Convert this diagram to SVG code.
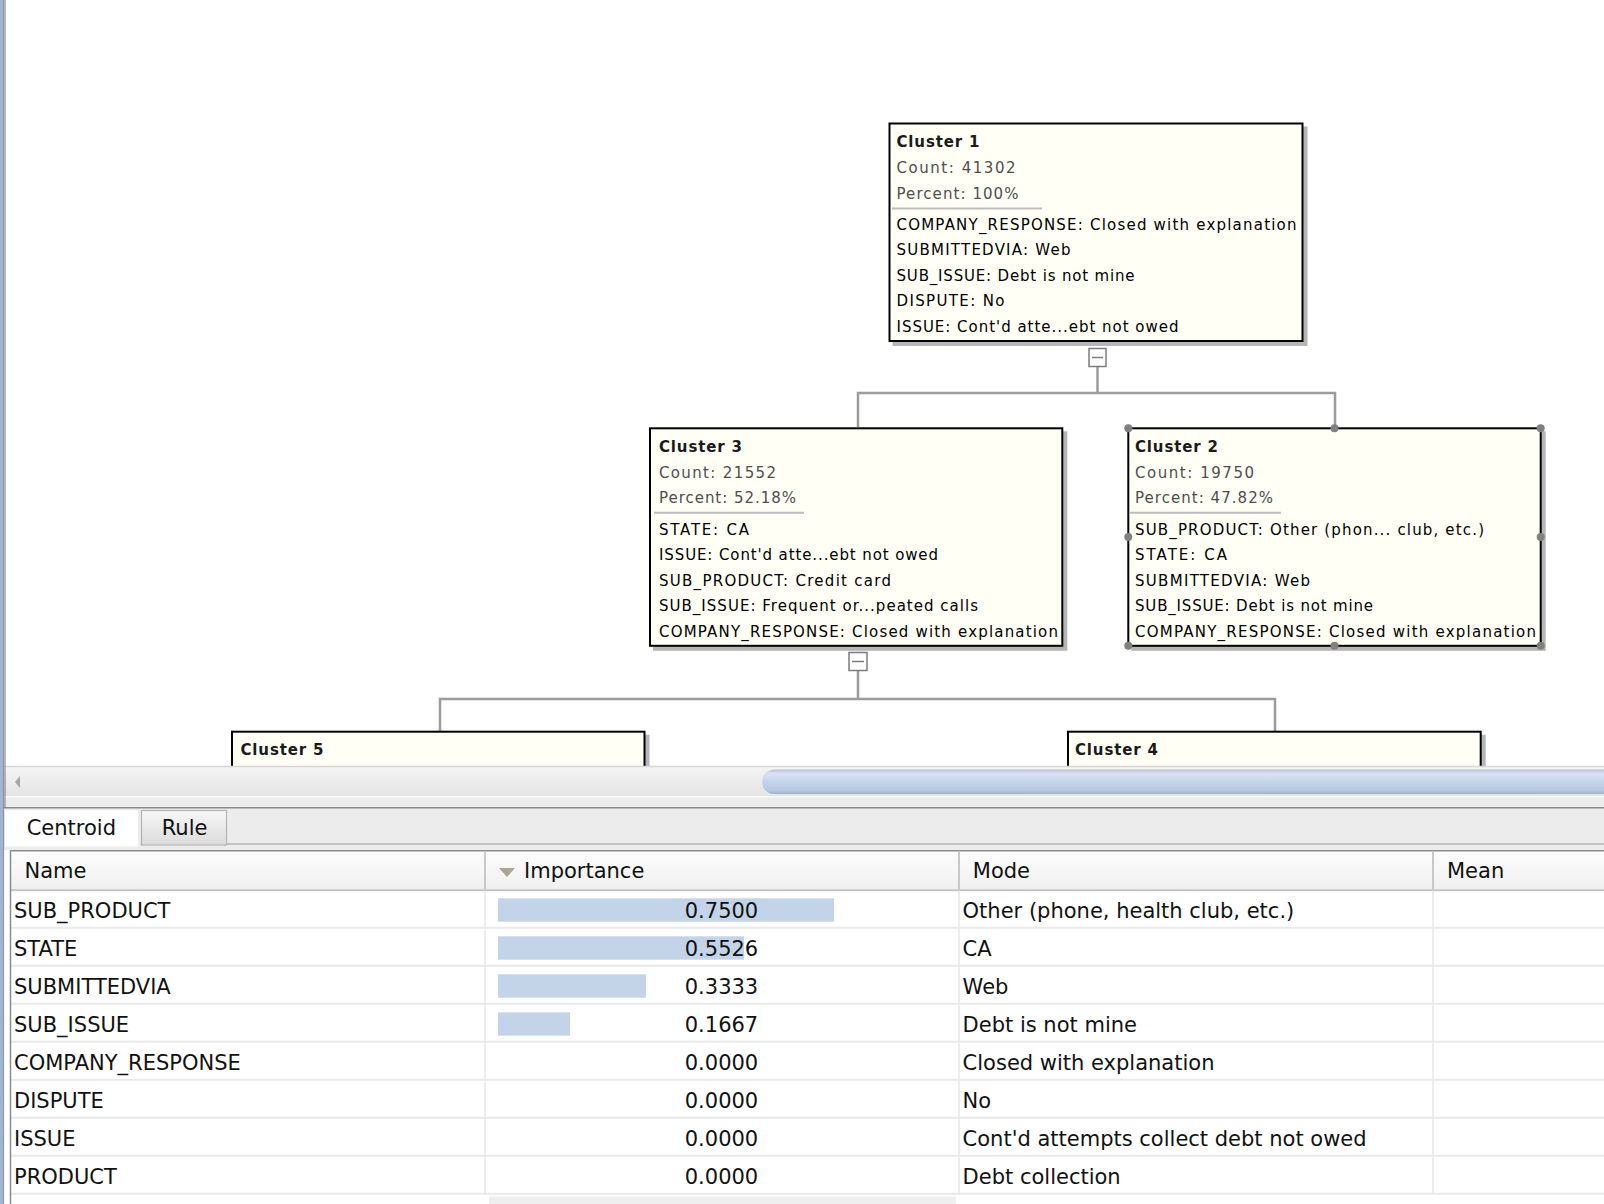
<svg xmlns="http://www.w3.org/2000/svg" width="1604" height="1204" viewBox="0 0 1604 1204">
<defs>
<style>
.box{fill:#fffff5;stroke:#000;stroke-width:2}
.shadow{fill:#b6b6b6}
.ttl{font-family:"DejaVu Sans",sans-serif;font-size:15px;font-weight:bold;fill:#1a1a1a}
.sub{font-family:"DejaVu Sans",sans-serif;font-size:15px;fill:#4e4e4e}
.att{font-family:"DejaVu Sans",sans-serif;font-size:15px;fill:#000}
.sep{stroke:#bdbdbd;stroke-width:2}
.conn{stroke:#9c9c9c;stroke-width:2.5;fill:none}
.tog{fill:#fff;stroke:#7c7c7c;stroke-width:1.5}
.togm{stroke:#7c7c7c;stroke-width:1.5}
.hdl{fill:#808080}
.tb{font-family:"DejaVu Sans",sans-serif;font-size:21px;fill:#111}
.num{font-family:"DejaVu Sans",sans-serif;font-size:21px;fill:#111;text-anchor:middle}
.bar{fill:#c3d4e9}
.rowline{stroke:#e9e9e9;stroke-width:2}
.colline{stroke:#ededed;stroke-width:2}
.hcol{stroke:#c8c8c8;stroke-width:2}
</style>
<clipPath id="canvasClip"><rect x="0" y="0" width="1604" height="766"/></clipPath>
<linearGradient id="track" x1="0" y1="0" x2="0" y2="1">
<stop offset="0" stop-color="#f5f5f5"/><stop offset="1" stop-color="#e4e4e4"/>
</linearGradient>
<linearGradient id="thumb" x1="0" y1="0" x2="0" y2="1">
<stop offset="0" stop-color="#aebfd6"/><stop offset="0.15" stop-color="#d8e3f1"/><stop offset="0.5" stop-color="#c4d5ea"/><stop offset="0.85" stop-color="#b7c9e0"/><stop offset="1" stop-color="#9fb2cb"/>
</linearGradient>
<linearGradient id="hdr" x1="0" y1="0" x2="0" y2="1">
<stop offset="0" stop-color="#fdfdfd"/><stop offset="1" stop-color="#f0f0f0"/>
</linearGradient>
<linearGradient id="ruletab" x1="0" y1="0" x2="0" y2="1">
<stop offset="0" stop-color="#f7f7f7"/><stop offset="1" stop-color="#dcdcdc"/>
</linearGradient>
</defs>

<rect x="0" y="0" width="1604" height="1204" fill="#ffffff"/>

<g id="connectors">
<line class="conn" x1="1097.5" y1="367" x2="1097.5" y2="393"/>
<polyline class="conn" points="858,427 858,393 1335,393 1335,427"/>
<line class="conn" x1="858" y1="671" x2="858" y2="699"/>
<polyline class="conn" points="440,731 440,699 1275,699 1275,731"/>
<rect class="tog" x="1089" y="348.5" width="17" height="18"/>
<line class="togm" x1="1092" y1="357.5" x2="1103" y2="357.5"/>
<rect class="tog" x="849" y="652.5" width="18" height="18"/>
<line class="togm" x1="852" y1="661.5" x2="864" y2="661.5"/>
</g>

<g id="cluster1">
<rect class="shadow" x="892.5" y="126.5" width="415" height="219.5"/>
<rect class="box" x="889.5" y="123.5" width="413" height="217.5"/>
<text class="ttl" x="896.5" y="147" textLength="83" lengthAdjust="spacing">Cluster 1</text>
<text class="sub" x="896.5" y="173" textLength="119" lengthAdjust="spacing">Count: 41302</text>
<text class="sub" x="896.5" y="198.5" textLength="122" lengthAdjust="spacing">Percent: 100%</text>
<line class="sep" x1="892" y1="208.5" x2="1042" y2="208.5"/>
<text class="att" x="896.5" y="229.5" textLength="400" lengthAdjust="spacing">COMPANY_RESPONSE: Closed with explanation</text>
<text class="att" x="896.5" y="255" textLength="174" lengthAdjust="spacing">SUBMITTEDVIA: Web</text>
<text class="att" x="896.5" y="280.5" textLength="238" lengthAdjust="spacing">SUB_ISSUE: Debt is not mine</text>
<text class="att" x="896.5" y="306" textLength="108" lengthAdjust="spacing">DISPUTE: No</text>
<text class="att" x="896.5" y="331.5" textLength="282" lengthAdjust="spacing">ISSUE: Cont'd atte...ebt not owed</text>
</g>

<g id="cluster3">
<rect class="shadow" x="653" y="431.3" width="414.3" height="219.5"/>
<rect class="box" x="650" y="428.3" width="412.3" height="217.5"/>
<text class="ttl" x="659" y="451.5" textLength="83" lengthAdjust="spacing">Cluster 3</text>
<text class="sub" x="659" y="477.5" textLength="117" lengthAdjust="spacing">Count: 21552</text>
<text class="sub" x="659" y="503" textLength="137" lengthAdjust="spacing">Percent: 52.18%</text>
<line class="sep" x1="654" y1="512.8" x2="804" y2="512.8"/>
<text class="att" x="659" y="534.5" textLength="90" lengthAdjust="spacing">STATE: CA</text>
<text class="att" x="659" y="560" textLength="279" lengthAdjust="spacing">ISSUE: Cont'd atte...ebt not owed</text>
<text class="att" x="659" y="585.5" textLength="232" lengthAdjust="spacing">SUB_PRODUCT: Credit card</text>
<text class="att" x="659" y="611" textLength="319" lengthAdjust="spacing">SUB_ISSUE: Frequent or...peated calls</text>
<text class="att" x="659" y="636.5" textLength="399" lengthAdjust="spacing">COMPANY_RESPONSE: Closed with explanation</text>
</g>

<g id="cluster2">
<rect class="shadow" x="1131.3" y="431.3" width="414.4" height="219.5"/>
<rect class="box" x="1128.3" y="428.3" width="412.4" height="217.5"/>
<text class="ttl" x="1135" y="451.5" textLength="83" lengthAdjust="spacing">Cluster 2</text>
<text class="sub" x="1135" y="477.5" textLength="119" lengthAdjust="spacing">Count: 19750</text>
<text class="sub" x="1135" y="503" textLength="138" lengthAdjust="spacing">Percent: 47.82%</text>
<line class="sep" x1="1130" y1="512.8" x2="1281" y2="512.8"/>
<text class="att" x="1135" y="534.5" textLength="349" lengthAdjust="spacing">SUB_PRODUCT: Other (phon... club, etc.)</text>
<text class="att" x="1135" y="560" textLength="92" lengthAdjust="spacing">STATE: CA</text>
<text class="att" x="1135" y="585.5" textLength="175" lengthAdjust="spacing">SUBMITTEDVIA: Web</text>
<text class="att" x="1135" y="611" textLength="238" lengthAdjust="spacing">SUB_ISSUE: Debt is not mine</text>
<text class="att" x="1135" y="636.5" textLength="401" lengthAdjust="spacing">COMPANY_RESPONSE: Closed with explanation</text>
<circle class="hdl" cx="1128.3" cy="428.3" r="4"/>
<circle class="hdl" cx="1334.5" cy="428.3" r="4"/>
<circle class="hdl" cx="1540.7" cy="428.3" r="4"/>
<circle class="hdl" cx="1128.3" cy="537" r="4"/>
<circle class="hdl" cx="1540.7" cy="537" r="4"/>
<circle class="hdl" cx="1128.3" cy="645.8" r="4"/>
<circle class="hdl" cx="1334.5" cy="645.8" r="4"/>
<circle class="hdl" cx="1540.7" cy="645.8" r="4"/>
</g>

<g id="cluster5" clip-path="url(#canvasClip)">
<rect class="shadow" x="235" y="734.7" width="414.5" height="219.5"/>
<rect class="box" x="232" y="731.7" width="412.5" height="217.5"/>
<text class="ttl" x="240.5" y="755" textLength="83" lengthAdjust="spacing">Cluster 5</text>
</g>

<g id="cluster4" clip-path="url(#canvasClip)">
<rect class="shadow" x="1071" y="734.7" width="414.7" height="219.5"/>
<rect class="box" x="1068" y="731.7" width="412.7" height="217.5"/>
<text class="ttl" x="1075" y="755" textLength="83" lengthAdjust="spacing">Cluster 4</text>
</g>

<g id="scrollbar">
<rect x="0" y="766" width="1604" height="30" fill="url(#track)"/>
<line x1="0" y1="766.5" x2="1604" y2="766.5" stroke="#d6d6d6" stroke-width="1.5"/>
<polygon points="15,782 20,776 20,788" fill="#a6a6a6"/>
<rect x="762" y="769.5" width="900" height="24.5" rx="12.25" fill="url(#thumb)"/>
</g>

<g id="tabs">
<rect x="0" y="796" width="1604" height="54" fill="#ececec"/>
<line x1="0" y1="796.8" x2="1604" y2="796.8" stroke="#fafafa" stroke-width="1.5"/>
<line x1="0" y1="807.7" x2="1604" y2="807.7" stroke="#8c8c8c" stroke-width="1.5"/>
<line x1="226" y1="844" x2="1604" y2="844" stroke="#b6b6b6" stroke-width="1.5"/>
<rect x="5" y="810.5" width="133" height="36" fill="#ffffff"/>
<rect x="141.5" y="810.5" width="85" height="34.5" fill="url(#ruletab)" stroke="#b4b4b4" stroke-width="1.2"/>
<text class="tb" x="26.7" y="835">Centroid</text>
<text class="tb" x="161.7" y="835">Rule</text>
</g>

<g id="table">
<rect x="10" y="851" width="1594" height="39" fill="url(#hdr)"/>
<line x1="10" y1="850.7" x2="1604" y2="850.7" stroke="#8c8c8c" stroke-width="1.5"/>
<line x1="10" y1="890.3" x2="1604" y2="890.3" stroke="#c6c6c6" stroke-width="2"/>
<line class="hcol" x1="485" y1="851" x2="485" y2="890"/>
<line class="hcol" x1="959" y1="851" x2="959" y2="890"/>
<line class="hcol" x1="1433" y1="851" x2="1433" y2="890"/>
<text class="tb" x="24.5" y="878">Name</text>
<polygon points="499,868 515,868 507,877" fill="#a9a692"/>
<text class="tb" x="524" y="878">Importance</text>
<text class="tb" x="972.8" y="878">Mode</text>
<text class="tb" x="1447" y="878">Mean</text>

<line class="colline" x1="485" y1="891" x2="485" y2="1194"/>
<line class="colline" x1="959" y1="891" x2="959" y2="1194"/>
<line class="colline" x1="1433" y1="891" x2="1433" y2="1194"/>
<line class="rowline" x1="10" y1="927.7" x2="1604" y2="927.7"/>
<line class="rowline" x1="10" y1="965.7" x2="1604" y2="965.7"/>
<line class="rowline" x1="10" y1="1003.7" x2="1604" y2="1003.7"/>
<line class="rowline" x1="10" y1="1041.7" x2="1604" y2="1041.7"/>
<line class="rowline" x1="10" y1="1079.7" x2="1604" y2="1079.7"/>
<line class="rowline" x1="10" y1="1117.7" x2="1604" y2="1117.7"/>
<line class="rowline" x1="10" y1="1155.7" x2="1604" y2="1155.7"/>
<line class="rowline" x1="10" y1="1193.7" x2="1604" y2="1193.7"/>
<rect x="489" y="1196.5" width="467" height="8" fill="#efefef"/>

<rect class="bar" x="498" y="898.3" width="336" height="23.4"/>
<rect class="bar" x="498" y="936.3" width="246" height="23.4"/>
<rect class="bar" x="498" y="974.3" width="148" height="23.4"/>
<rect class="bar" x="498" y="1012.3" width="72" height="23.4"/>

<text class="tb" x="14" y="918">SUB_PRODUCT</text>
<text class="tb" x="14" y="956">STATE</text>
<text class="tb" x="14" y="994">SUBMITTEDVIA</text>
<text class="tb" x="14" y="1032">SUB_ISSUE</text>
<text class="tb" x="14" y="1070">COMPANY_RESPONSE</text>
<text class="tb" x="14" y="1108">DISPUTE</text>
<text class="tb" x="14" y="1146">ISSUE</text>
<text class="tb" x="14" y="1184">PRODUCT</text>

<text class="num" x="721.5" y="918">0.7500</text>
<text class="num" x="721.5" y="956">0.5526</text>
<text class="num" x="721.5" y="994">0.3333</text>
<text class="num" x="721.5" y="1032">0.1667</text>
<text class="num" x="721.5" y="1070">0.0000</text>
<text class="num" x="721.5" y="1108">0.0000</text>
<text class="num" x="721.5" y="1146">0.0000</text>
<text class="num" x="721.5" y="1184">0.0000</text>

<text class="tb" x="962.6" y="918">Other (phone, health club, etc.)</text>
<text class="tb" x="962.6" y="956">CA</text>
<text class="tb" x="962.6" y="994">Web</text>
<text class="tb" x="962.6" y="1032">Debt is not mine</text>
<text class="tb" x="962.6" y="1070">Closed with explanation</text>
<text class="tb" x="962.6" y="1108">No</text>
<text class="tb" x="962.6" y="1146">Cont'd attempts collect debt not owed</text>
<text class="tb" x="962.6" y="1184">Debt collection</text>
<line x1="10.5" y1="850" x2="10.5" y2="1204" stroke="#8c8c8c" stroke-width="1.5"/>
</g>

<g id="window-edge">
<rect x="0" y="0" width="3" height="1204" fill="#9db6d6"/>
<line x1="3.6" y1="0" x2="3.6" y2="1204" stroke="#8a8a8a" stroke-width="1"/>
<line x1="5" y1="0" x2="5" y2="808" stroke="#777777" stroke-width="1"/>
</g>
</svg>
